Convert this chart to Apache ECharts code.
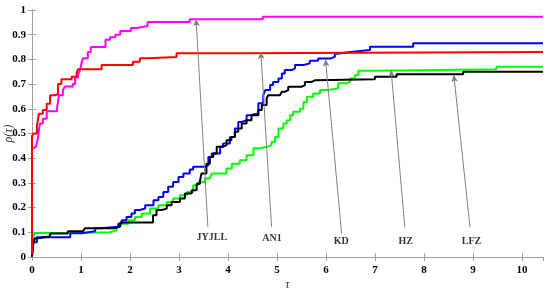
<!DOCTYPE html>
<html>
<head>
<meta charset="utf-8">
<script src="https://cdn.jsdelivr.net/npm/echarts@6/dist/echarts.min.js"></script>
<style>
  html, body { margin: 0; padding: 0; background: #fff; }
  #chart { width: 550px; height: 297px; }
</style>
</head>
<body>
<div id="chart"></div>
<script>
// performance profiles, [tau, rho] where each level starts
const jyjll = [[0,0.44],[0.02,0.445],[0.08,0.45],[0.12,0.48],[0.16,0.54],[0.22,0.56],[0.3,0.59],[0.51,0.60],[0.55,0.655],[0.63,0.675],[0.67,0.69],[0.83,0.70],[0.88,0.727],[0.94,0.737],[0.98,0.757],[1.01,0.785],[1.04,0.805],[1.14,0.83],[1.2,0.85],[1.5,0.88],[1.59,0.89],[1.7,0.9],[1.8,0.915],[2.02,0.927],[2.14,0.935],[2.36,0.951],[3.22,0.963],[4.71,0.973],[10.43,0.973]];
const an1 = [[0,0.01],[0,0.49],[0.03,0.50],[0.1,0.53],[0.14,0.58],[0.22,0.595],[0.3,0.62],[0.37,0.655],[0.47,0.66],[0.53,0.70],[0.6,0.72],[0.81,0.73],[0.91,0.745],[0.94,0.76],[1.42,0.777],[2.06,0.79],[2.2,0.805],[2.37,0.81],[2.95,0.825],[4.28,0.83],[10.43,0.83]];
const kd = [[0,0.0],[0.027,0.06],[0.1,0.08],[0.78,0.096],[1.01,0.104],[1.29,0.116],[1.39,0.122],[1.76,0.135],[1.83,0.149],[1.93,0.162],[2.03,0.176],[2.1,0.19],[2.2,0.196],[2.31,0.21],[2.48,0.23],[2.58,0.243],[2.68,0.263],[2.78,0.284],[2.88,0.304],[2.99,0.324],[3.09,0.338],[3.22,0.354],[3.29,0.365],[3.53,0.372],[3.6,0.405],[3.67,0.419],[3.84,0.446],[3.9,0.46],[4.04,0.486],[4.14,0.52],[4.21,0.547],[4.28,0.554],[4.38,0.574],[4.45,0.581],[4.62,0.622],[4.72,0.655],[4.76,0.676],[4.86,0.696],[4.92,0.709],[5.03,0.723],[5.1,0.743],[5.16,0.757],[5.3,0.764],[5.37,0.777],[5.54,0.784],[5.67,0.795],[5.84,0.804],[6.1,0.81],[6.18,0.822],[6.22,0.83],[6.5,0.838],[6.9,0.851],[7.78,0.865],[10.43,0.865]];
const hz = [[0,0.0],[0.027,0.084],[0.06,0.097],[0.8,0.10],[1.59,0.108],[1.73,0.122],[1.8,0.135],[1.97,0.149],[2.1,0.162],[2.24,0.176],[2.41,0.196],[2.58,0.21],[2.75,0.223],[2.88,0.237],[3.02,0.25],[3.16,0.263],[3.29,0.29],[3.39,0.304],[3.53,0.318],[3.63,0.324],[3.67,0.338],[3.97,0.358],[4.08,0.378],[4.24,0.392],[4.38,0.412],[4.52,0.44],[4.65,0.446],[4.79,0.453],[4.89,0.466],[4.96,0.486],[5.03,0.52],[5.13,0.54],[5.2,0.554],[5.27,0.574],[5.33,0.588],[5.47,0.6],[5.54,0.628],[5.61,0.649],[5.74,0.662],[5.88,0.676],[6.05,0.683],[6.25,0.703],[6.42,0.709],[6.49,0.723],[6.59,0.737],[6.66,0.754],[7.05,0.76],[9.48,0.77],[10.43,0.77]];
const lfz = [[0,0.007],[0.027,0.055],[0.06,0.076],[0.13,0.084],[0.37,0.095],[0.73,0.104],[1.04,0.108],[1.08,0.116],[1.69,0.124],[1.8,0.14],[2.47,0.169],[2.54,0.19],[2.65,0.196],[2.75,0.21],[2.85,0.223],[3.02,0.237],[3.12,0.257],[3.26,0.27],[3.36,0.297],[3.43,0.311],[3.46,0.338],[3.56,0.378],[3.63,0.405],[3.7,0.419],[3.77,0.446],[3.9,0.453],[3.97,0.473],[4.07,0.486],[4.14,0.507],[4.21,0.52],[4.28,0.54],[4.38,0.554],[4.48,0.574],[4.62,0.595],[4.69,0.615],[4.79,0.642],[4.82,0.655],[5.06,0.662],[5.1,0.669],[5.16,0.676],[5.23,0.689],[5.5,0.696],[5.57,0.709],[5.71,0.716],[5.78,0.72],[7.0,0.73],[7.44,0.74],[8.8,0.75],[10.43,0.75]];

// annotations: name, text position, arrow start, arrow tip
const labelNames = ['JYJLL', 'AN1', 'KD', 'HZ', 'LFZ'];
const labelPos = [[3.67,0.078],[4.9,0.076],[6.31,0.064],[7.63,0.065],[8.97,0.065]];
const arrowFrom = [[3.59,0.122],[4.89,0.122],[6.32,0.095],[7.61,0.12],[8.94,0.12]];
const arrowTo = [[3.35,0.963],[4.67,0.83],[5.99,0.80],[7.33,0.757],[8.61,0.737]];

const xTicks = [0, 10.43];
const yTicks = [0, 1];

const font = 'Liberation Serif, Times New Roman, serif';
const axisGray = '#a0a0a0';

const chart = echarts.init(document.getElementById('chart'));

const curve = (name, data, color) => ({
  name, type: 'line', step: 'end', data, showSymbol: false, symbol: 'none',
  lineStyle: { color, width: 2 }, itemStyle: { color }, z: 3, animation: false
});

const baseAxis = {
  axisLine: { show: true, lineStyle: { color: axisGray, width: 1 } },
  axisTick: { show: true, inside: true, length: 4, lineStyle: { color: axisGray } },
  splitLine: { show: false },
  axisLabel: { color: '#000', fontFamily: font, fontWeight: 'bold', fontSize: 11 }
};

chart.setOption({
  animation: false,
  grid: { left: 32, right: 7, top: 10, bottom: 40, containLabel: false, outerBoundsMode: 'none' },
  xAxis: [
    Object.assign({}, baseAxis, {
      type: 'value', min: xTicks[0], max: xTicks[1], interval: 1, position: 'bottom',
      axisLabel: Object.assign({}, baseAxis.axisLabel, { showMaxLabel: false, margin: 8 }),
      name: 'τ', nameLocation: 'middle', nameGap: 22, nameMoveOverlap: false,
      nameTextStyle: { fontFamily: font, fontStyle: 'italic', fontSize: 12, color: '#333' }
    }),
    Object.assign({}, baseAxis, {
      type: 'value', min: xTicks[0], max: xTicks[1], interval: 1, position: 'top',
      axisLabel: { show: false }
    })
  ],
  yAxis: [
    Object.assign({}, baseAxis, {
      type: 'value', min: yTicks[0], max: yTicks[1], interval: 0.1, position: 'left',
      axisLabel: Object.assign({}, baseAxis.axisLabel, { margin: 6, formatter: v => String(+v.toFixed(1)) }),
      name: 'ρ(τ)', nameLocation: 'middle', nameGap: 17, nameRotate: 90, nameMoveOverlap: false,
      nameTextStyle: { fontFamily: font, fontStyle: 'italic', fontSize: 12, color: '#333' }
    }),
    Object.assign({}, baseAxis, {
      type: 'value', min: yTicks[0], max: yTicks[1], interval: 0.1, position: 'right',
      axisLabel: { show: false }
    })
  ],
  series: [
    curve('HZ', hz, '#00ff00'),
    curve('KD', kd, '#0000ff'),
    curve('LFZ', lfz, '#000000'),
    curve('JYJLL', jyjll, '#ff00ff'),
    curve('AN1', an1, '#ff0000'),
    {
      name: 'labels', type: 'scatter', symbolSize: 0, z: 5,
      data: labelNames.map((n, i) => ({ name: n, value: labelPos[i] })),
      label: {
        show: true, position: 'inside', formatter: p => p.name,
        fontFamily: font, fontWeight: 'bold', fontSize: 10, color: '#000'
      },
      markLine: {
        silent: true, symbol: ['none', 'arrow'], symbolSize: [5, 7],
        label: { show: false },
        lineStyle: { color: '#808080', width: 1, type: 'solid' },
        itemStyle: { color: '#333' },
        data: arrowFrom.map((f, i) => [{ coord: f }, { coord: arrowTo[i] }])
      }
    }
  ]
});
</script>
</body>
</html>
